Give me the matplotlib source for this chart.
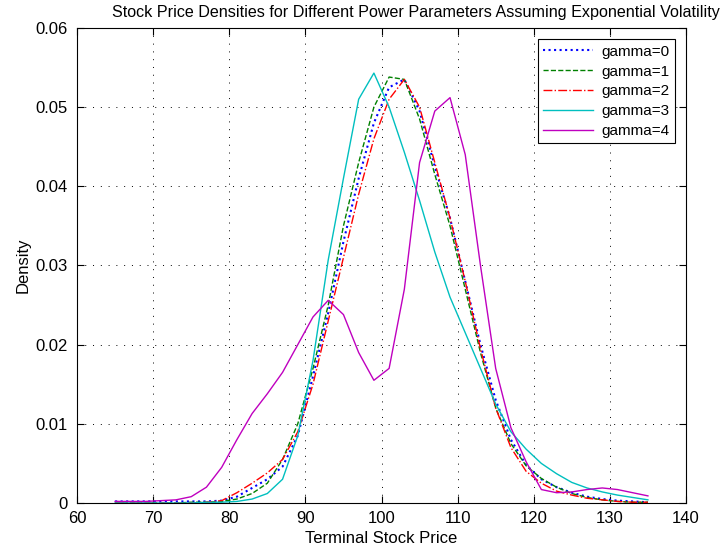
import matplotlib
matplotlib.use("Agg")
import matplotlib.pyplot as plt
import numpy as np

plt.rcParams['font.family'] = ['Liberation Sans', 'DejaVu Sans']

price = [65, 67, 69, 71, 73, 75, 77, 79, 81, 83, 85, 87, 89, 91, 93, 95, 97, 99,
         101, 103, 105, 107, 109, 111, 113, 115, 117, 119, 121, 123, 125, 127, 129, 131, 133, 135]

gamma0 = [0.0002, 0.0002, 0.0002, 0.0002, 0.0002, 0.0002, 0.0002, 0.0003, 0.0008, 0.0019, 0.0030, 0.0046,
          0.0085, 0.0160, 0.0240, 0.0330, 0.0410, 0.0480, 0.0525, 0.0535, 0.0495, 0.0425, 0.0360, 0.0280,
          0.0200, 0.0130, 0.0080, 0.0048, 0.0030, 0.0020, 0.0013, 0.0008, 0.0005, 0.0003, 0.0002, 0.0001]
gamma1 = [0.0000, 0.0000, 0.0000, 0.0000, 0.0000, 0.0001, 0.0001, 0.0002, 0.0005, 0.0012, 0.0025, 0.0055,
          0.0100, 0.0170, 0.0250, 0.0350, 0.0430, 0.0500, 0.0538, 0.0535, 0.0485, 0.0415, 0.0350, 0.0270,
          0.0190, 0.0120, 0.0075, 0.0047, 0.0031, 0.0020, 0.0012, 0.0007, 0.0004, 0.0002, 0.0001, 0.0001]
gamma2 = [0.0000, 0.0000, 0.0000, 0.0000, 0.0000, 0.0000, 0.0001, 0.0003, 0.0013, 0.0025, 0.0038, 0.0055,
          0.0090, 0.0150, 0.0230, 0.0310, 0.0390, 0.0460, 0.0510, 0.0535, 0.0500, 0.0430, 0.0360, 0.0280,
          0.0195, 0.0120, 0.0070, 0.0040, 0.0025, 0.0015, 0.0010, 0.0006, 0.0004, 0.0002, 0.0001, 0.0001]
gamma3 = [0.0000, 0.0000, 0.0000, 0.0000, 0.0000, 0.0000, 0.0001, 0.0001, 0.0002, 0.0005, 0.0012, 0.0030,
          0.0085, 0.0180, 0.0307, 0.0410, 0.0510, 0.0543, 0.0500, 0.0443, 0.0382, 0.0317, 0.0260, 0.0215,
          0.0170, 0.0125, 0.0090, 0.0068, 0.0050, 0.0037, 0.0026, 0.0019, 0.0014, 0.0010, 0.0007, 0.0004]
gamma4 = [0.0002, 0.0002, 0.0002, 0.0003, 0.0004, 0.0008, 0.0020, 0.0045, 0.0080, 0.0113, 0.0138, 0.0165,
          0.0200, 0.0235, 0.0256, 0.0238, 0.0190, 0.0155, 0.0170, 0.0270, 0.0430, 0.0495, 0.0512, 0.0440,
          0.0300, 0.0170, 0.0095, 0.0052, 0.0017, 0.0013, 0.0014, 0.0017, 0.0019, 0.0017, 0.0013, 0.0009]

labels = ['gamma=0', 'gamma=1', 'gamma=2', 'gamma=3', 'gamma=4']
series = [gamma0, gamma1, gamma2, gamma3, gamma4]
colors = [(0, 0, 1), (0, 0.5, 0), (1, 0, 0), (0, 0.75, 0.75), (0.75, 0, 0.75)]
styles = [':', '--', '-.', '-', '-']

fig = plt.figure(figsize=(7.24, 5.48), dpi=100)
ax = fig.add_axes([0.1064, 0.0821, 0.8411, 0.8669])

for y, lab, c, ls in zip(series, labels, colors, styles):
    lw = 1.5 if ls == ':' else 1.0
    ax.plot(price, y, color=c, linestyle=ls, linewidth=lw, label=lab)

ax.set_xlim(60, 140)
ax.set_ylim(0, 0.06)
ax.set_xticks(np.arange(60, 141, 10))
ax.set_yticks(np.arange(0, 0.061, 0.01))
ax.set_yticklabels(['0', '0.01', '0.02', '0.03', '0.04', '0.05', '0.06'])
ax.tick_params(direction='in', top=True, right=True, labelsize=12, length=5, width=0.8)
ax.tick_params(axis='x', pad=6)
ax.tick_params(axis='y', pad=7)
ax.grid(True, linestyle=(0, (1, 7)), color='black', linewidth=0.7)
for s in ax.spines.values():
    s.set_linewidth(0.8)

ax.set_xlabel('Terminal Stock Price', fontsize=12, labelpad=3)
ax.set_ylabel('Density', fontsize=12, labelpad=3)
ax.set_title('Stock Price Densities for Different Power Parameters Assuming Exponential Volatility',
             fontsize=11.6, pad=8, x=0.557)

leg = ax.legend(loc='upper right', fontsize=11, fancybox=False, framealpha=1,
                edgecolor='black', handlelength=3.3, borderaxespad=0.75,
                labelspacing=0.38, borderpad=0.35, handletextpad=0.5)
leg.get_frame().set_linewidth(0.8)

fig.savefig('out.png', dpi=100)
